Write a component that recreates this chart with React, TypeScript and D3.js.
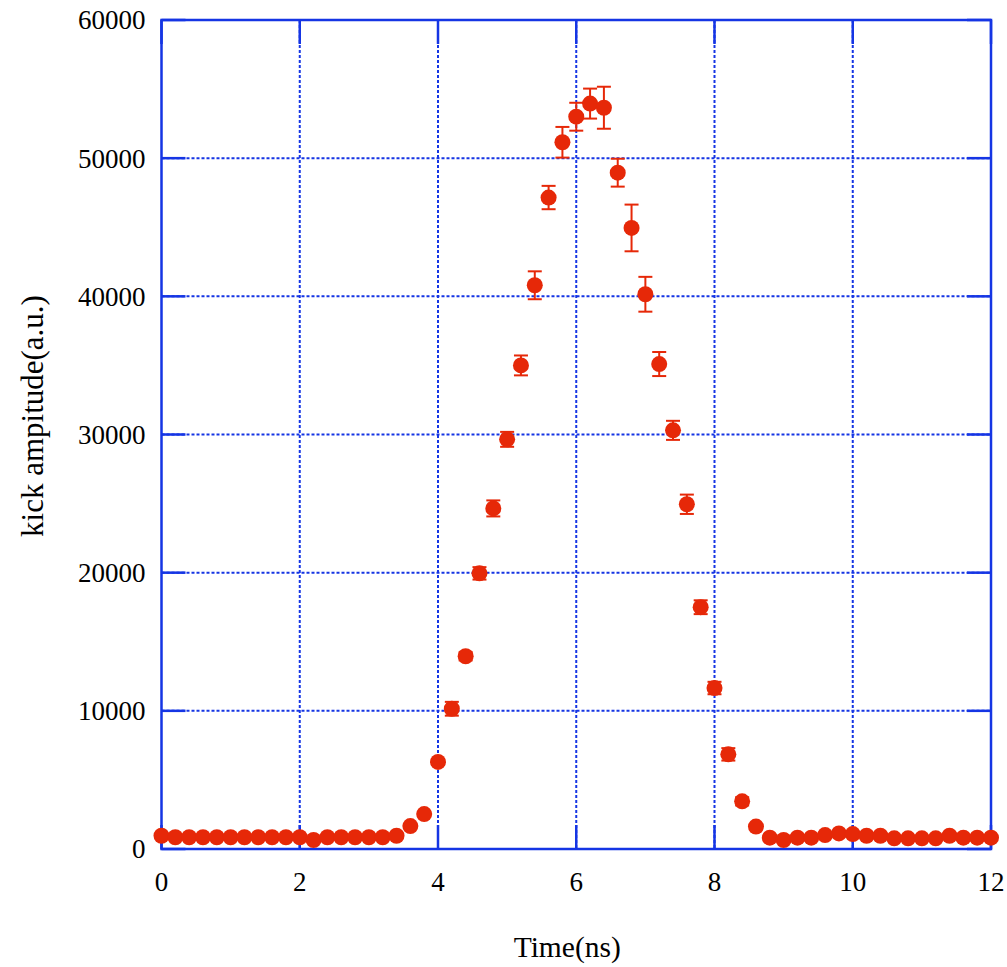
import React from "react";
import * as d3 from "d3";

// time axis (ns)
const times = [
  0, 0.2, 0.4, 0.6, 0.8, 1.0, 1.2, 1.4, 1.6, 1.8,
  2.0, 2.2, 2.4, 2.6, 2.8, 3.0, 3.2, 3.4, 3.6, 3.8,
  4.0, 4.2, 4.4, 4.6, 4.8, 5.0, 5.2, 5.4, 5.6, 5.8,
  6.0, 6.2, 6.4, 6.6, 6.8, 7.0, 7.2, 7.4, 7.6, 7.8,
  8.0, 8.2, 8.4, 8.6, 8.8, 9.0, 9.2, 9.4, 9.6, 9.8,
  10.0, 10.2, 10.4, 10.6, 10.8, 11.0, 11.2, 11.4, 11.6, 11.8,
  12.0,
];

// kick amplitude (a.u.)
const amplitude = [
  960, 850, 850, 850, 850, 850, 850, 850, 850, 850,
  850, 650, 850, 850, 850, 850, 850, 960, 1660, 2530,
  6300, 10150, 13950, 19950, 24650, 29650, 35000, 40800, 47150, 51150,
  53000, 53950, 53650, 48950, 44950, 40150, 35100, 30300, 24950, 17500,
  11650, 6850, 3450, 1620, 820, 650, 820, 820, 1010, 1130,
  1080, 960, 960, 770, 770, 770, 770, 960, 820, 820,
  820,
];

// error bar half-heights
const errors = [
  0, 0, 0, 0, 0, 0, 0, 0, 0, 0,
  0, 0, 0, 0, 0, 0, 0, 0, 0, 0,
  200, 500, 300, 450, 580, 540, 720, 1010, 845, 1110,
  1010, 1085, 1520, 1010, 1690, 1260, 870, 690, 700, 500,
  450, 450, 300, 0, 0, 0, 0, 0, 0, 0,
  0, 0, 0, 0, 0, 0, 0, 0, 0, 0,
  0,
];

const xTicks = [0, 2, 4, 6, 8, 10, 12];
const yTicks = [0, 10000, 20000, 30000, 40000, 50000, 60000];

const W = 1007;
const H = 967;
const left = 161.5;
const right = 991;
const top = 20;
const bottom = 849;

const blue = "#1535e4";
const red = "#e62808";
const font = "'Liberation Serif', 'Times New Roman', serif";

export default function App() {
  const x = d3.scaleLinear().domain([0, 12]).range([left, right]);
  const y = d3.scaleLinear().domain([0, 60000]).range([bottom, top]);
  const tickLen = 24;

  const pts = times.map((t, i) => ({ t, v: amplitude[i], e: errors[i] }));

  return (
    <div style={{ position: "absolute", left: 0, top: 0 }}>
      <svg width={W} height={H} style={{ display: "block", background: "#fff" }}>
        {/* grid */}
        <g stroke={blue} strokeWidth={2} strokeDasharray="3,2" fill="none">
          {xTicks.slice(1, -1).map((t) => (
            <line key={"gx" + t} x1={x(t)} x2={x(t)} y1={top} y2={bottom} />
          ))}
          {yTicks.slice(1, -1).map((t) => (
            <line key={"gy" + t} x1={left} x2={right} y1={y(t)} y2={y(t)} />
          ))}
        </g>
        {/* ticks (inward, mirrored) */}
        <g stroke={blue} strokeWidth={2.5}>
          {xTicks.map((t) => (
            <g key={"tx" + t}>
              <line x1={x(t)} x2={x(t)} y1={bottom} y2={bottom - tickLen} />
              <line x1={x(t)} x2={x(t)} y1={top} y2={top + tickLen} />
            </g>
          ))}
          {yTicks.map((t) => (
            <g key={"ty" + t}>
              <line x1={left} x2={left + tickLen} y1={y(t)} y2={y(t)} />
              <line x1={right} x2={right - tickLen} y1={y(t)} y2={y(t)} />
            </g>
          ))}
        </g>
        {/* frame */}
        <rect x={left} y={top} width={right - left} height={bottom - top} fill="none" stroke={blue} strokeWidth={2.5} />

        {/* error bars */}
        <g stroke={red} strokeWidth={2}>
          {pts.filter((p) => p.e > 0).map((p, i) => (
            <g key={"e" + i}>
              <line x1={x(p.t)} x2={x(p.t)} y1={y(p.v + p.e)} y2={y(p.v - p.e)} />
              <line x1={x(p.t) - 7} x2={x(p.t) + 7} y1={y(p.v + p.e)} y2={y(p.v + p.e)} />
              <line x1={x(p.t) - 7} x2={x(p.t) + 7} y1={y(p.v - p.e)} y2={y(p.v - p.e)} />
            </g>
          ))}
        </g>
        {/* points */}
        <g fill={red}>
          {pts.map((p, i) => (
            <circle key={"p" + i} cx={x(p.t)} cy={y(p.v)} r={8} />
          ))}
        </g>

        {/* tick labels */}
        <g fontFamily={font} fontSize={27} fill="#000">
          {yTicks.map((t) => (
            <text key={"ly" + t} x={left - 16} y={y(t)} dy="0.35em" textAnchor="end">
              {t}
            </text>
          ))}
          {xTicks.map((t) => (
            <text key={"lx" + t} x={x(t)} y={bottom + 42} textAnchor="middle">
              {t}
            </text>
          ))}
        </g>

        {/* axis titles */}
        <text x={(left + right) / 2 - 9} y={957} fontFamily={font} fontSize={29.5} textAnchor="middle">
          Time(ns)
        </text>
        <text
          transform={`translate(43,${416}) rotate(-90)`}
          fontFamily={font}
          fontSize={31}
          textAnchor="middle"
        >
          kick ampitude(a.u.)
        </text>
      </svg>
    </div>
  );
}
